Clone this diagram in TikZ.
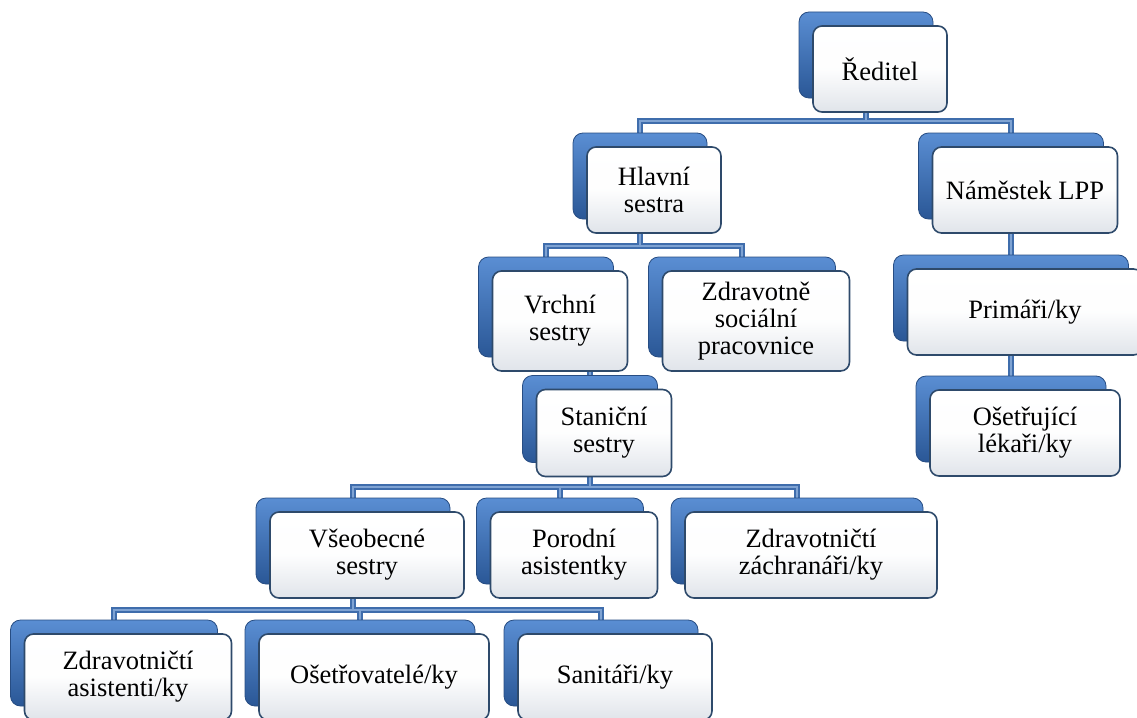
\documentclass[tikz,border=0pt]{standalone}
\usepackage{fontspec}
\setmainfont{Liberation Serif}
\usepackage{xcolor}
\definecolor{backtop}{HTML}{5A8ED3}
\definecolor{backbot}{HTML}{2A5796}
\definecolor{backedge}{HTML}{274D83}
\definecolor{cardedge}{HTML}{2E4A6B}
\definecolor{cardbot}{HTML}{E0E4EA}
\definecolor{linkblue}{HTML}{3F6DAC}
\definecolor{linklight}{HTML}{7FA3D3}
\usepackage{tikz}
\usetikzlibrary{positioning,backgrounds,calc}

\begin{document}
\begin{tikzpicture}[x=1pt, y=-1pt,
    sz/.style 2 args={minimum width=#1, minimum height=#2},
    back/.style={rectangle, rounded corners=10pt, draw=backedge, line width=0.8pt,
      top color=backtop, bottom color=backbot, inner sep=0pt},
    card/.style={rectangle, rounded corners=9pt, draw=cardedge, line width=1.6pt,
      top color=white, bottom color=cardbot, middle color=white!95!cardbot,
      align=center, inner sep=2pt, font=\fontsize{26.5}{27}\selectfont},
    link/.style={draw=linkblue, line width=2pt, double=linklight, double distance=1.5pt}]
  \useasboundingbox (0,0) rectangle (1137,717);
  % Ředitel
  \node[back, sz={134}{86}] (dirB) at (866,55) {};
  \node[card, sz={134}{86}] (dir) at ([shift={(14,14)}]dirB) {Ředitel};
  % second level
  \node[back, sz={134}{86}] (hsB) at (640,176) {};
  \node[card, sz={134}{86}] (hs) at ([shift={(14,14)}]hsB) {Hlavní\\sestra};
  \node[back, sz={185}{86}] (namB) at (1011,176) {};
  \node[card, sz={185}{86}] (nam) at ([shift={(14,14)}]namB) {Náměstek LPP};
  % under Hlavní sestra
  \node[back, sz={135}{100}] (vrB) at (546,307) {};
  \node[card, sz={135}{100}] (vr) at ([shift={(14,14)}]vrB) {Vrchní\\sestry};
  \node[back, sz={187}{100}] (zsB) at (742,307) {};
  \node[card, sz={187}{100}] (zs) at ([shift={(14,14)}]zsB) {Zdravotně\\sociální\\pracovnice};
  \node[back, sz={135}{87}] (stB) at (590,419) {};
  \node[card, sz={135}{87}] (st) at ([shift={(14,14)}]stB) {Staniční\\sestry};
  % under Náměstek LPP
  \node[back, sz={235}{86}] (prB) at (1011,298) {};
  \node[card, sz={235}{86}] (pr) at ([shift={(14,14)}]prB) {Primáři/ky};
  \node[back, sz={190}{86}] (olB) at (1011,419) {};
  \node[card, sz={190}{86}] (ol) at ([shift={(14,14)}]olB) {Ošetřující\\lékaři/ky};
  % under Staniční sestry
  \node[back, sz={194}{86}] (vsB) at (353,541) {};
  \node[card, sz={194}{86}] (vs) at ([shift={(14,14)}]vsB) {Všeobecné\\sestry};
  \node[back, sz={167}{86}] (poB) at (560,541) {};
  \node[card, sz={167}{86}] (po) at ([shift={(14,14)}]poB) {Porodní\\asistentky};
  \node[back, sz={252}{86}] (zzB) at (797,541) {};
  \node[card, sz={252}{86}] (zz) at ([shift={(14,14)}]zzB) {Zdravotničtí\\záchranáři/ky};
  % under Všeobecné sestry
  \node[back, sz={207}{86}] (zaB) at (114,663) {};
  \node[card, sz={207}{86}] (za) at ([shift={(14,14)}]zaB) {Zdravotničtí\\asistenti/ky};
  \node[back, sz={230}{86}] (osB) at (360,663) {};
  \node[card, sz={230}{86}] (os) at ([shift={(14,14)}]osB) {Ošetřovatelé/ky};
  \node[back, sz={194}{86}] (saB) at (601,663) {};
  \node[card, sz={194}{86}] (sa) at ([shift={(14,14)}]saB) {Sanitáři/ky};
  % connectors
  \begin{scope}[on background layer]
    \draw[link] (dirB.center) -- ++(0,66) -| (hsB.center)
      (dirB.center) -- ++(0,66) -| (namB.center);
    \draw[link] (hsB.center) -- ++(0,70) -| (vrB.center)
      (hsB.center) -- ++(0,70) -| (zsB.center);
    \draw[link] (vrB.center) -- ++(0,60) -| (stB.center);
    \draw[link] (stB.center) -- ++(0,68) -| (vsB.center)
      (stB.center) -- ++(0,68) -| (poB.center)
      (stB.center) -- ++(0,68) -| (zzB.center);
    \draw[link] (vsB.center) -- ++(0,69) -| (zaB.center)
      (vsB.center) -- ++(0,69) -| (osB.center)
      (vsB.center) -- ++(0,69) -| (saB.center);
    \draw[link] (namB.center) -- (prB.center) -- (olB.center);
  \end{scope}
\end{tikzpicture}
\end{document}
